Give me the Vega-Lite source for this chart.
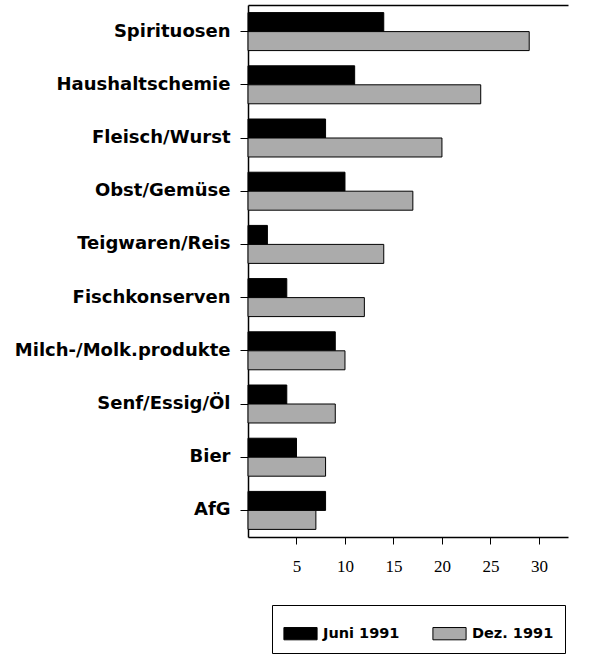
{
  "$schema": "https://vega.github.io/schema/vega-lite/v6.json",
  "width": 320,
  "height": 532,
  "autosize": "none",
  "padding": {"left": 248, "top": 5, "right": 24, "bottom": 123},
  "background": "white",
  "config": {
    "view": {"stroke": null},
    "axis": {"domainColor": "black", "tickColor": "black", "labelColor": "black", "grid": false}
  },
  "data": {
    "values": [
      {"category": "Spirituosen", "series": "Juni 1991", "value": 14},
      {"category": "Spirituosen", "series": "Dez. 1991", "value": 29},
      {"category": "Haushaltschemie", "series": "Juni 1991", "value": 11},
      {"category": "Haushaltschemie", "series": "Dez. 1991", "value": 24},
      {"category": "Fleisch/Wurst", "series": "Juni 1991", "value": 8},
      {"category": "Fleisch/Wurst", "series": "Dez. 1991", "value": 20},
      {"category": "Obst/Gemüse", "series": "Juni 1991", "value": 10},
      {"category": "Obst/Gemüse", "series": "Dez. 1991", "value": 17},
      {"category": "Teigwaren/Reis", "series": "Juni 1991", "value": 2},
      {"category": "Teigwaren/Reis", "series": "Dez. 1991", "value": 14},
      {"category": "Fischkonserven", "series": "Juni 1991", "value": 4},
      {"category": "Fischkonserven", "series": "Dez. 1991", "value": 12},
      {"category": "Milch-/Molk.produkte", "series": "Juni 1991", "value": 9},
      {"category": "Milch-/Molk.produkte", "series": "Dez. 1991", "value": 10},
      {"category": "Senf/Essig/Öl", "series": "Juni 1991", "value": 4},
      {"category": "Senf/Essig/Öl", "series": "Dez. 1991", "value": 9},
      {"category": "Bier", "series": "Juni 1991", "value": 5},
      {"category": "Bier", "series": "Dez. 1991", "value": 8},
      {"category": "AfG", "series": "Juni 1991", "value": 8},
      {"category": "AfG", "series": "Dez. 1991", "value": 7}
    ]
  },
  "encoding": {
    "y": {
      "field": "category",
      "type": "nominal",
      "sort": ["Spirituosen", "Haushaltschemie", "Fleisch/Wurst", "Obst/Gemüse", "Teigwaren/Reis", "Fischkonserven", "Milch-/Molk.produkte", "Senf/Essig/Öl", "Bier", "AfG"],
      "scale": {"paddingInner": 0.286, "paddingOuter": 0.143},
      "axis": {
        "title": null,
        "labelFont": "DejaVu Sans",
        "labelFontWeight": "bold",
        "labelFontSize": 18,
        "labelLimit": 300,
        "tickSize": 8,
        "labelPadding": 10,
        "domainWidth": 1.5
      }
    }
  },
  "layer": [
    {
      "mark": {"type": "bar", "stroke": "black", "strokeWidth": 1},
      "encoding": {
        "x": {
          "field": "value",
          "type": "quantitative",
          "scale": {"domain": [0, 33], "nice": false},
          "axis": {
            "title": null,
            "values": [5, 10, 15, 20, 25, 30],
            "labelFont": "Liberation Serif",
            "labelFontSize": 17,
            "tickSize": 7,
            "labelPadding": 14,
            "domainWidth": 1.5
          }
        },
        "yOffset": {"field": "series", "type": "nominal", "sort": ["Juni 1991", "Dez. 1991"]},
        "fill": {
          "field": "series",
          "type": "nominal",
          "sort": ["Juni 1991", "Dez. 1991"],
          "scale": {"domain": ["Juni 1991", "Dez. 1991"], "range": ["#000000", "#ababab"]},
          "legend": {
            "orient": "none",
            "legendX": 24,
            "legendY": 600,
            "direction": "horizontal",
            "title": null,
            "strokeColor": "black",
            "padding": 11,
            "symbolType": "M-1,-0.37H1V0.37H-1Z",
            "symbolSize": 1100,
            "symbolStrokeColor": "black",
            "symbolStrokeWidth": 1,
            "symbolOpacity": 1,
            "labelFont": "DejaVu Sans",
            "labelFontWeight": "bold",
            "labelFontSize": 14.5,
            "labelColor": "black",
            "labelOffset": 5,
            "columnPadding": 30
          }
        }
      }
    },
    {
      "mark": {"type": "tick", "opacity": 0},
      "encoding": {
        "x": {
          "field": "value",
          "type": "quantitative",
          "axis": {"orient": "top", "title": null, "labels": false, "ticks": false, "domainWidth": 1.5}
        }
      }
    }
  ],
  "resolve": {"axis": {"x": "independent"}}
}
